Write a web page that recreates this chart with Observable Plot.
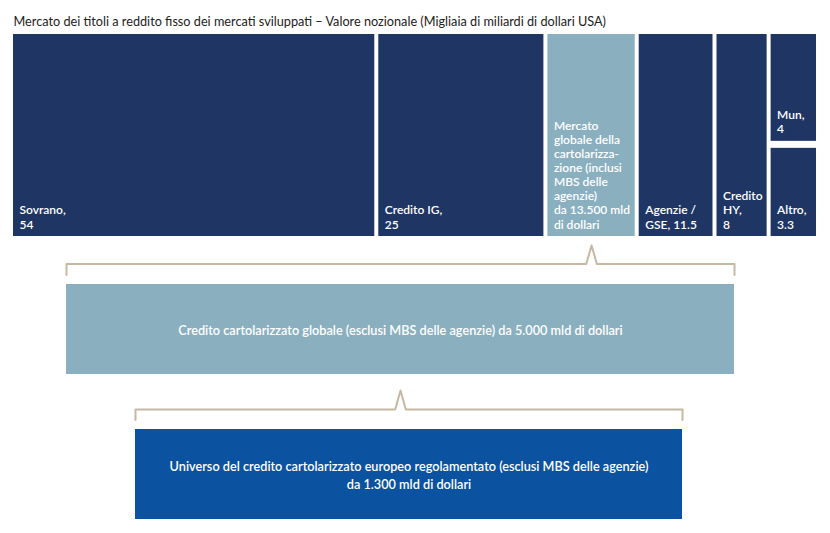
<!DOCTYPE html>
<html><head><meta charset="utf-8">
<script src="https://cdn.jsdelivr.net/npm/d3@7"></script>
<script src="https://cdn.jsdelivr.net/npm/@observablehq/plot@0.6"></script>
<style>body{margin:0;background:#fff}</style>
</head><body><div id="chart"></div>
<script>
// ---- data ----
const title = "Mercato dei titoli a reddito fisso dei mercati sviluppati – Valore nozionale (Migliaia di miliardi di dollari USA)";
const categories = ["Sovrano", "Credito IG", "Mercato globale della cartolarizzazione", "Agenzie / GSE", "Credito HY", "Mun", "Altro"];
const values = [54, 25, 13.5, 11.5, 8, 4, 3.3];
const columnOf = [0, 1, 2, 3, 4, 5, 5];           // Mun and Altro share one column
const groups = ["dm", "dm", "sec", "dm", "dm", "dm", "dm"];
const labels = [
  "Sovrano,\n54",
  "Credito IG,\n25",
  "Mercato\nglobale della\ncartolarizza-\nzione (inclusi\nMBS delle\nagenzie)\nda 13.500 mld\ndi dollari",
  "Agenzie /\nGSE, 11.5",
  "Credito\nHY,\n8",
  "Mun,\n4",
  "Altro,\n3.3"
];
const globalLabel = "Credito cartolarizzato globale (esclusi MBS delle agenzie) da 5.000 mld di dollari";
const europeLabel = "Universo del credito cartolarizzato europeo regolamentato (esclusi MBS delle agenzie)\nda 1.300 mld di dollari";

// ---- layout (pixels) ----
const X_RANGE = [11, 818], TOP = 34, BOTTOM = 236, VGAP = 7, INSET = 2;
const C_DARK = "#1f3665", C_LIGHT = "#8aafbf", C_BLUE = "#0b52a0", C_BRACKET = "#c6b8a4";
const FONT = "Lato, 'Noto Sans', sans-serif";

// columns from the values
const nCols = d3.max(columnOf) + 1;
const colWidth = d3.range(nCols).map(c => d3.sum(values.filter((v, i) => columnOf[i] === c)));
const colStart = [0];
colWidth.forEach((w, i) => colStart.push(colStart[i] + w));
const total = colStart[nCols];

const rows = categories.map((cat, i) => {
  const c = columnOf[i];
  const members = values.map((v, j) => j).filter(j => columnOf[j] === c);
  const k = members.indexOf(i);
  const colSum = colWidth[c];
  const usable = BOTTOM - TOP - VGAP * (members.length - 1);
  const before = d3.sum(members.slice(0, k), j => values[j]);
  const y1 = TOP + usable * before / colSum + VGAP * k;
  const y2 = y1 + usable * values[i] / colSum;
  return {cat, value: values[i], x1: colStart[c], x2: colStart[c] + colSum, y1, y2, group: groups[i], label: labels[i]};
});

const xs = Plot.scale({x: {domain: [0, total], range: X_RANGE}});
const px = p => xs.invert(p);

// schematic lower section
const secRow = rows[groups.indexOf("sec")];
const peak1 = (secRow.x1 + secRow.x2) / 2;
const box1 = {x1: px(66), x2: px(734), y1: 284, y2: 374, label: globalLabel, fill: C_LIGHT};
const box2 = {x1: px(135), x2: px(682), y1: 429, y2: 519, label: europeLabel, fill: C_BLUE};
const peak2 = (box1.x1 + box1.x2) / 2;
function bracket(x1, x2, peak, yTick, yLine, yPeak, id) {
  const h = px(5.3) - px(0);
  return [[x1, yTick], [x1, yLine], [peak - h, yLine], [peak, yPeak], [peak + h, yLine], [x2, yLine], [x2, yTick]]
    .map(([x, y]) => ({x, y, id}));
}
const brackets = [
  ...bracket(box1.x1, box1.x2, peak1, 274.5, 263.5, 245, "b1"),
  ...bracket(box2.x1, box2.x2, peak2, 419.5, 409, 390, "b2")
];

const chart = Plot.plot({
  width: 830, height: 533, margin: 0,
  x: {domain: [0, total], range: X_RANGE, axis: null},
  y: {domain: [0, 533], range: [0, 533], axis: null},
  style: {background: "#fff"},
  marks: [
    Plot.text([title], {frameAnchor: "top-left", textAnchor: "start", lineAnchor: "bottom", dx: 13, dy: 25,
      text: d => d, fontSize: 12.7, fontFamily: FONT, fill: "#222"}),
    Plot.rect(rows, {x1: "x1", x2: "x2", y1: "y1", y2: "y2", insetLeft: INSET, insetRight: INSET,
      fill: d => d.group === "sec" ? C_LIGHT : C_DARK}),
    Plot.text(rows, {x: "x1", y: "y2", text: "label", textAnchor: "start", lineAnchor: "bottom",
      dx: INSET + 6, dy: -8, fill: "white", fontSize: 12, fontWeight: 600, fontFamily: FONT, lineHeight: 1.17}),
    Plot.line(brackets, {x: "x", y: "y", z: "id", stroke: C_BRACKET, strokeWidth: 2, curve: "linear"}),
    Plot.rect([box1, box2], {x1: "x1", x2: "x2", y1: "y1", y2: "y2", fill: "fill"}),
    Plot.text([box1, box2], {x: d => (d.x1 + d.x2) / 2, y: d => (d.y1 + d.y2) / 2, text: "label",
      textAnchor: "middle", lineAnchor: "middle", fill: "white", fontSize: 12.7, fontWeight: 600,
      fontFamily: FONT, lineHeight: 1.35})
  ]
});
document.getElementById("chart").append(chart);
</script>
</body></html>
